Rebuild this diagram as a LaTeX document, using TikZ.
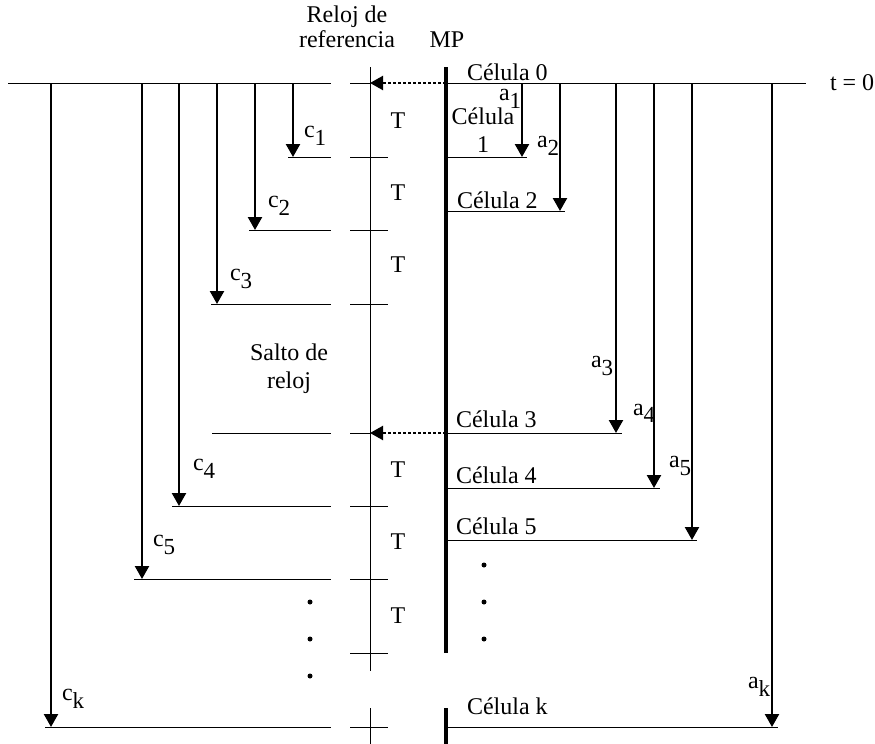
\documentclass[tikz,border=0pt]{standalone}
\usepackage{fontspec}
\setmainfont{Liberation Serif}
\usetikzlibrary{arrows.meta,positioning}
\newcommand{\lowidx}[1]{\raisebox{-4pt}{\fontsize{11.5}{11.5}\selectfont #1}}

\begin{document}
\begin{tikzpicture}[
  x=0.5pt, y=-0.5pt,
  font=\fontsize{12}{13.5}\selectfont,
  every node/.style={inner sep=0pt, outer sep=0pt},
  arr/.style={-{Triangle[length=6.5pt,width=7pt]}, line width=1.2pt},
  sync/.style={-{Triangle[length=6.5pt,width=7pt]}, line width=1.1pt,
    dash pattern=on 1.5pt off 1pt},
  hl/.style={line width=0.5pt},
  clk/.style={line width=0.5pt},
  mp/.style={line width=2.2pt},
  lbl/.style={anchor=base west},
  tlbl/.style={anchor=base},
  pt/.style={circle, fill, minimum size=2.5pt}
]
  \useasboundingbox (0,0) rectangle (875,744);

  % ejes de tiempo
  \coordinate (clktop) at (370,67);
  \coordinate (clkcut) at (370,671);
  \coordinate (clkres) at (370,708);
  \coordinate (clkbot) at (370,744);
  \coordinate (mptop) at (446,67);
  \coordinate (mpcut) at (446,653);
  \coordinate (mpres) at (446,708);
  \coordinate (mpbot) at (446,744);
  \draw[clk] (clktop) -- (clkcut) (clkres) -- (clkbot);
  \draw[mp] (mptop) -- (mpcut) (mpres) -- (mpbot);

  \node[align=center, anchor=base, font=\fontsize{12}{10}\selectfont] (reloj) at (347,47) {Reloj de\\referencia};
  \node[tlbl] (mp) at (447,47) {MP};

  % t = 0
  \coordinate (t0l) at (8,83);
  \coordinate (t0m) at (331,83);
  \coordinate (t0r) at (806,83);
  \coordinate (ck0) at (370,83);
  \coordinate (mp0) at (446,83);
  \draw[hl] (t0l) -- (t0m) (350,83) -- (ck0) (mp0) -- (t0r);
  \draw[sync] (mp0) -- (ck0);
  \node[anchor=west] (tzero) at (830,83) {t = 0};

  % salto de reloj
  \coordinate (ck3) at (370,433);
  \coordinate (mp3) at (446,433);
  \draw[hl] (212,433) -- (331,433) (350,433) -- (ck3);
  \draw[sync] (mp3) -- (ck3);
  \node[align=center, anchor=base, font=\fontsize{12}{14}\selectfont] (salto) at (289,388) {Salto de\\reloj};

  \foreach \y in {157,230,304,506,579,653,727}
    \draw[hl] (350,\y) -- (388,\y);
  \foreach \y in {128,200,272,477,549,623}
    \node[tlbl] at (398,\y) {T};

  % llegadas c
  \foreach \n/\x/\y/\s in {1/293/157/288,2/255/230/249,3/217/304/211,4/179/506/172,5/142/579/134,k/51/727/45}{
    \coordinate (c\n0) at (\x,83);
    \coordinate (c\n) at (\x,\y);
    \draw[arr] (c\n0) -- (c\n);
    \draw[hl] (\s,\y) -- (331,\y);
  }
  \node[lbl] at (304,137) {c\lowidx{1}};
  \node[lbl] at (268,207) {c\lowidx{2}};
  \node[lbl] at (230,280) {c\lowidx{3}};
  \node[lbl] at (193,470) {c\lowidx{4}};
  \node[lbl] at (153,546) {c\lowidx{5}};
  \node[lbl] at (62,700) {c\lowidx{k}};

  % llegadas a
  \foreach \n/\x/\y/\e in {1/522/157/527,2/560/211/565,3/616/433/622,4/654/488/660,5/692/540/697,k/772/727/778}{
    \coordinate (a\n0) at (\x,83);
    \coordinate (a\n) at (\x,\y);
    \draw[arr] (a\n0) -- (a\n);
    \draw[hl] (446,\y) -- (\e,\y);
  }
  \node[lbl] at (499,100) {a\lowidx{1}};
  \node[lbl] at (537,148) {a\lowidx{2}};
  \node[lbl] at (591,367) {a\lowidx{3}};
  \node[lbl] at (633,415) {a\lowidx{4}};
  \node[lbl] at (669,467) {a\lowidx{5}};
  \node[lbl] at (748,688) {a\lowidx{k}};

  % celulas
  \node[lbl] (cel0) at (467,81) {Célula 0};
  \node[align=center, anchor=base] (cel1) at (483,152) {Célula\\1};
  \node[lbl] (cel2) at (457,208) {Célula 2};
  \node[lbl] (cel3) at (456,427) {Célula 3};
  \node[lbl] (cel4) at (456,483) {Célula 4};
  \node[lbl] (cel5) at (456,534) {Célula 5};
  \node[lbl] (celk) at (467,714) {Célula k};

  % puntos
  \foreach \y in {565,602,639}
    \node[pt] at (484,\y) {};
  \foreach \y in {602,639,676}
    \node[pt] at (310,\y) {};
\end{tikzpicture}
\end{document}
